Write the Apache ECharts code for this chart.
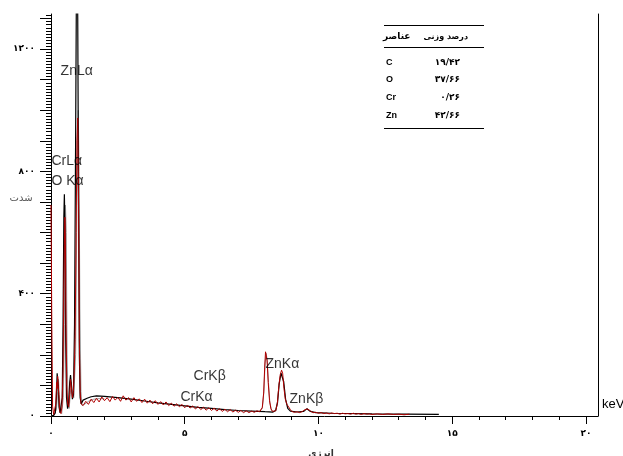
<!DOCTYPE html>
<html><head><meta charset="utf-8">
<script src="https://cdn.jsdelivr.net/npm/echarts@6/dist/echarts.min.js"></script>
<style>html,body{margin:0;padding:0;background:#fff}#c{width:623px;height:456px}</style>
</head><body><div id="c"></div>
<script>
// Fitted spectrum (black)
const fitEnergy = [0,0.1,0.16,0.2,0.23,0.25,0.27,0.3,0.34,0.38,0.42,0.45,0.48,0.5,0.52,0.55,0.58,0.62,0.66,0.7,0.73,0.76,0.8,0.84,0.88,0.92,0.95,0.97,1.0,1.03,1.06,1.09,1.13,1.2,1.35,1.5,1.7,2.0,2.5,3.0,3.5,4.0,4.5,5.0,5.5,6.0,6.5,7.0,7.5,8.0,8.3,8.4,8.47,8.53,8.6,8.65,8.7,8.77,8.85,8.95,9.2,9.45,9.57,9.7,9.9,10.5,12,14.5];
const fitCounts = [0,2,10,60,140,145,100,30,10,12,60,300,650,725,620,250,60,24,45,110,134,105,55,70,300,900,1400,1600,1300,700,200,60,40,52,58,63,66,64,60,55,49,43,38,33,28,25,21,18,16,14,13,18,45,105,140,143,112,55,25,16,13,15,24,15,11,9,7,5];

// Measured spectrum (red)
const dataEnergy = [0,0.03,0.06,0.1,0.14,0.18,0.21,0.23,0.25,0.27,0.3,0.33,0.37,0.41,0.45,0.48,0.5,0.52,0.54,0.56,0.59,0.62,0.66,0.7,0.73,0.76,0.8,0.84,0.87,0.9,0.94,0.97,1.0,1.03,1.06,1.09,1.12,
 1.2,1.3,1.4,1.5,1.6,1.7,1.8,1.9,2.0,2.1,2.2,2.3,2.4,2.5,2.6,2.7,2.8,2.9,3.0,3.1,3.2,3.3,3.4,3.5,3.6,3.7,3.8,3.9,4.0,4.1,4.2,4.3,4.4,4.5,4.6,4.7,4.8,4.9,5.0,5.1,5.2,5.3,5.4,5.5,5.6,5.7,5.8,5.9,6.0,6.1,6.2,6.3,6.4,6.5,6.6,6.7,6.8,6.9,7.0,7.1,7.2,7.3,7.4,7.5,7.6,7.7,7.8,
 7.85,7.9,7.95,7.99,8.02,8.05,8.08,8.12,8.17,8.22,8.28,8.34,8.4,8.46,8.52,8.57,8.62,8.66,8.71,8.76,8.82,8.88,8.94,9.0,
 9.1,9.2,9.3,9.4,9.5,9.55,9.6,9.7,9.8,9.9,10.0,10.1,10.2,10.3,10.4,10.5,10.6,10.7,10.8,10.9,11.0,11.1,11.2,11.3,11.4,11.5,11.6,11.7,11.8,11.9,12.0,12.2,12.4,12.6,12.8,13.0,13.2,13.4];
const dataCounts = [690,300,30,5,10,40,110,90,130,100,60,15,8,30,150,420,560,650,560,300,100,40,30,70,120,95,60,80,150,250,600,900,975,700,250,80,40,
 34,48,38,55,44,58,46,62,50,60,47,64,52,61,48,66,52,60,46,60,48,56,44,55,42,52,40,50,38,47,36,46,34,42,32,40,30,38,27,36,26,33,23,31,21,29,19,27,18,26,16,24,15,22,14,21,13,19,12,18,11,17,11,16,12,17,14,
 18,28,75,160,210,215,180,110,50,24,15,12,17,40,100,135,150,140,90,55,38,34,22,15,
 12,14,11,15,21,25,23,16,11,12,9,11,8,10,7,10,8,9,6,9,7,8,6,9,6,8,5,8,6,7,5,7,5,7,5,6,4,6];

// Second trace (grey), low-energy part and Cu K part
const greyLowEnergy = [0,0.1,0.2,0.25,0.28,0.31,0.35,0.4,0.46,0.5,0.54,0.57,0.6,0.64,0.68,0.72,0.76,0.8,0.85,0.92,0.97,1.02,1.05,1.08,1.12,1.16,1.25,1.4,1.6,1.8,2.0];
const greyLowCounts = [0,3,20,80,120,70,15,8,60,300,690,600,200,40,25,70,110,80,60,200,700,1000,800,350,80,35,38,48,55,57,56];
const greyHighEnergy = [7.8,7.9,7.96,8.0,8.04,8.08,8.13,8.18,8.24,8.3];
const greyHighCounts = [16,25,80,170,205,185,110,45,20,14];

// Peak annotations (anchored in data coordinates)
const peakLabels = ['ZnLα','CrLα','O Kα','CrKβ','CrKα','ZnKα','ZnKβ'];
const peakLabelEnergy = [0.34,0.0,0.0,5.31,4.82,8.0,8.9];
const peakLabelCounts = [1129,834,769,131,62,170,56];

// Table
const tableElements = ['C','O','Cr','Zn'];
const tableWeights = [19.42,37.66,0.26,42.66];

// Axis ticks
const xTickLabels = [0,5,10,15,20];
const yTickLabels = [0,400,800,1200];
const xMax = 20.45, yMax = 1315;

const fa = v => String(v).replace(/[0-9]/g, d => '۰۱۲۳۴۵۶۷۸۹'[+d]).replace('.', '/');
const zip = (a, b) => a.map((x, i) => [x, b[i]]);

const xMinor = []; for (let i = 0; i <= 20; i++) xMinor.push(i);
const yMinor = []; for (let v = 0; v <= 1310; v += 10) yMinor.push(v);
const yMajor = []; for (let v = 0; v <= 1300; v += 100) yMajor.push(v);

const labFont = {fontSize: 9, fontWeight: 'bold', fontFamily: 'DejaVu Sans', color: '#000'};
const baseAxis = {type: 'value', min: 0, splitLine: {show: false}};

const chart = echarts.init(document.getElementById('c'), null, {renderer: 'canvas'});

const tableGraphics = [];
const tl = (y) => ({type: 'line', shape: {x1: 384, y1: y, x2: 484, y2: y}, style: {stroke: '#000', lineWidth: 1}});
tableGraphics.push(tl(25.5), tl(47.5), tl(128.5));
tableGraphics.push({type: 'text', x: 383, y: 37, style: {text: 'عناصر', font: 'bold 9px "DejaVu Sans"', fill: '#000', align: 'left', verticalAlign: 'middle'}});
tableGraphics.push({type: 'text', x: 468, y: 37, style: {text: 'درصد وزنی', font: 'bold 8px "DejaVu Sans"', fill: '#000', align: 'right', verticalAlign: 'middle'}});
const rowY = [63, 80, 98, 116];
tableElements.forEach((el, i) => {
  tableGraphics.push({type: 'text', x: 386, y: rowY[i], style: {text: el, font: 'bold 9px "Liberation Sans"', fill: '#000', align: 'left', verticalAlign: 'middle'}});
  tableGraphics.push({type: 'text', x: 460, y: rowY[i], style: {text: fa(tableWeights[i]), font: 'bold 9px "DejaVu Sans"', fill: '#000', align: 'right', verticalAlign: 'middle'}});
});
tableGraphics.push({type: 'text', x: 21, y: 198, style: {text: 'شدت', font: '10px "DejaVu Sans"', fill: '#555', align: 'center', verticalAlign: 'middle'}});
tableGraphics.push({type: 'text', x: 321, y: 454, style: {text: 'انرژی', font: 'bold 9px "DejaVu Sans"', fill: '#333', align: 'center', verticalAlign: 'middle'}});
tableGraphics.push({type: 'text', x: 602, y: 404, style: {text: 'keV', font: '13px "Liberation Sans"', fill: '#000', align: 'left', verticalAlign: 'middle'}});

chart.setOption({
  animation: false,
  backgroundColor: '#fff',
  grid: {left: 51, right: 25, top: 14, bottom: 40, containLabel: false},
  xAxis: [
    Object.assign({}, baseAxis, {max: xMax, position: 'bottom',
      axisLine: {show: true, onZero: false, lineStyle: {color: '#000', width: 1}},
      axisTick: {show: true, length: 4, customValues: xMinor, lineStyle: {color: '#000'}},
      axisLabel: {show: false}}),
    Object.assign({}, baseAxis, {max: xMax, position: 'bottom', offset: 0,
      axisLine: {show: false, onZero: false},
      axisTick: {show: true, length: 8, customValues: xTickLabels, lineStyle: {color: '#000'}},
      axisLabel: Object.assign({show: true, margin: 13, customValues: xTickLabels, formatter: v => fa(v)}, labFont)})
  ],
  yAxis: [
    Object.assign({}, baseAxis, {max: yMax, position: 'left',
      axisLine: {show: true, onZero: false, lineStyle: {color: '#000', width: 1}},
      axisTick: {show: true, length: 5, customValues: yMinor, lineStyle: {color: '#000'}},
      axisLabel: {show: false}}),
    Object.assign({}, baseAxis, {max: yMax, position: 'left', offset: 0,
      axisLine: {show: false, onZero: false},
      axisTick: {show: true, length: 11, customValues: yMajor, lineStyle: {color: '#000'}},
      axisLabel: Object.assign({show: true, margin: 16, customValues: yTickLabels, formatter: v => fa(v)}, labFont)}),
    Object.assign({}, baseAxis, {max: yMax, position: 'right', offset: 0,
      axisLine: {show: true, onZero: false, lineStyle: {color: '#000', width: 1}},
      axisTick: {show: false}, axisLabel: {show: false}})
  ],
  graphic: tableGraphics,
  series: [
    {type: 'line', data: zip(fitEnergy, fitCounts), showSymbol: false, clip: true, z: 3,
      lineStyle: {color: '#000', width: 1.2}},
    {type: 'line', data: zip(greyLowEnergy, greyLowCounts), showSymbol: false, clip: true, z: 2,
      lineStyle: {color: '#9a9a9a', width: 1}},
    {type: 'line', data: zip(greyHighEnergy, greyHighCounts), showSymbol: false, clip: true, z: 2,
      lineStyle: {color: '#9a8080', width: 1}},
    {type: 'line', data: zip(dataEnergy, dataCounts), showSymbol: false, clip: true, z: 4,
      lineStyle: {color: '#b00000', width: 1}},
    {type: 'scatter', symbolSize: 1, itemStyle: {color: 'rgba(0,0,0,0)'}, z: 6, silent: true,
      data: peakLabels.map((n, i) => ({name: n, value: [peakLabelEnergy[i], peakLabelCounts[i]]})),
      label: {show: true, position: 'right', distance: 0, formatter: p => p.name,
        fontSize: 14, fontFamily: 'Liberation Sans', color: '#000'}}
  ]
});
</script>
</body></html>
